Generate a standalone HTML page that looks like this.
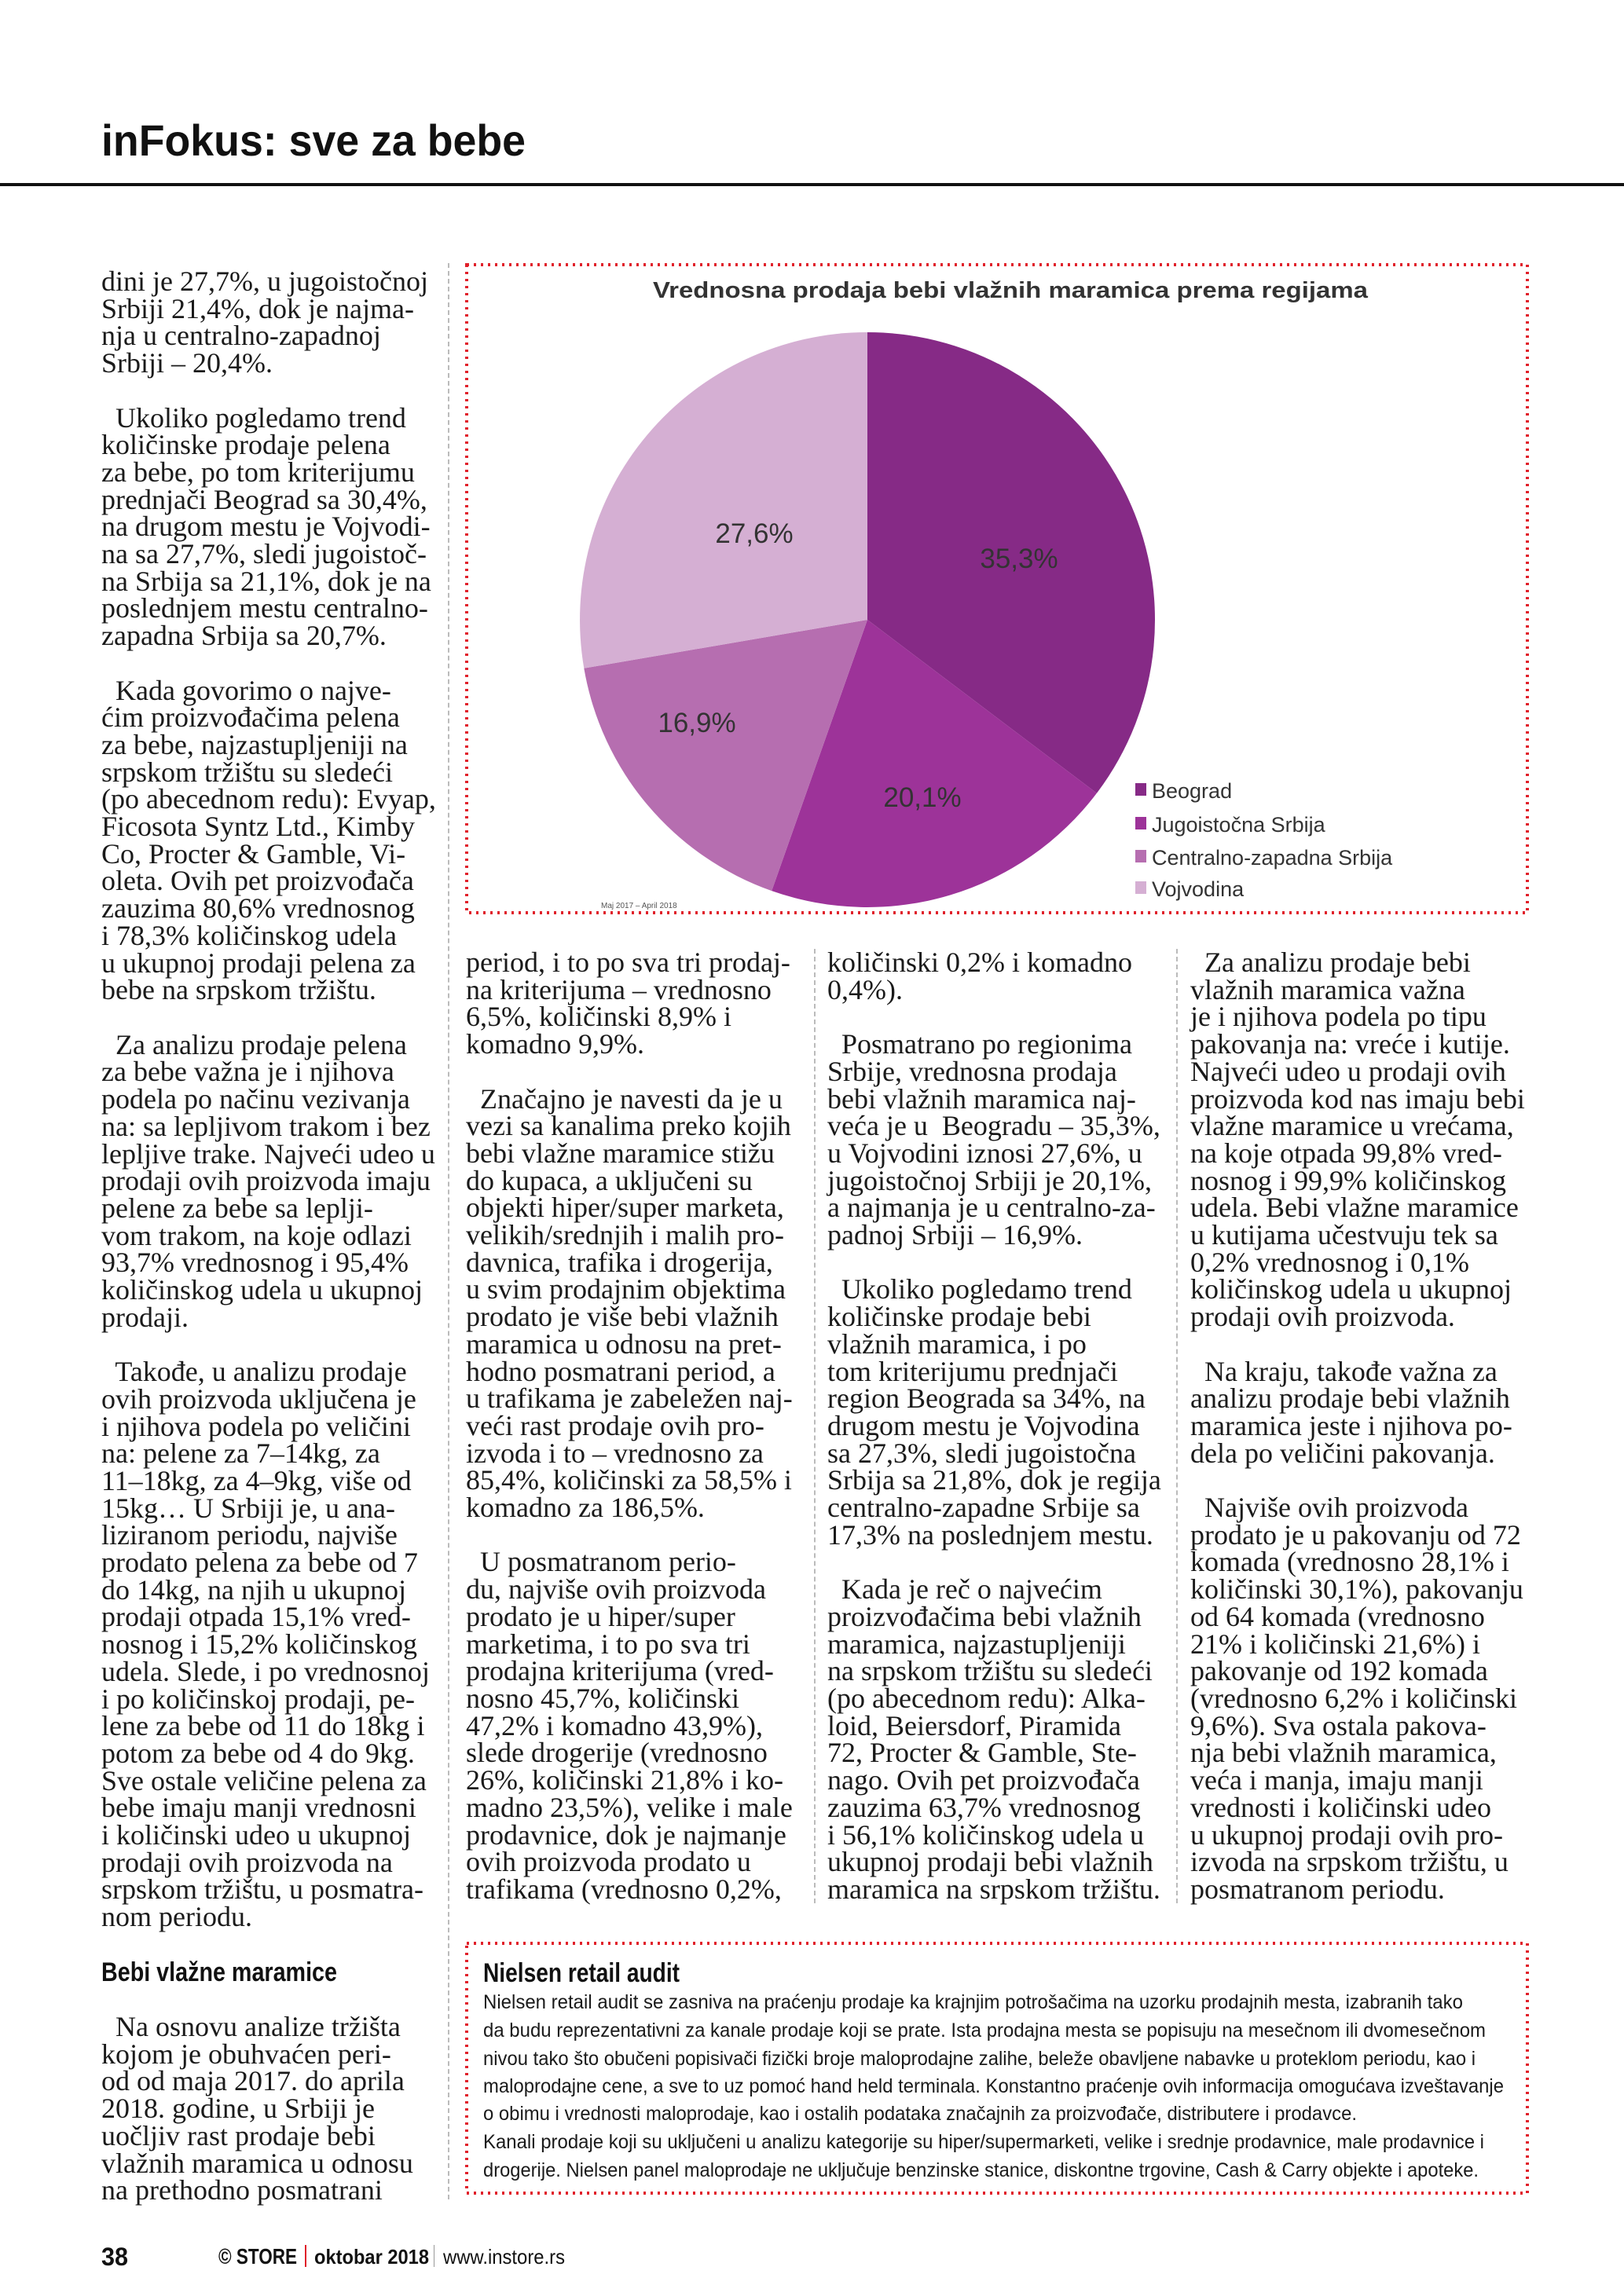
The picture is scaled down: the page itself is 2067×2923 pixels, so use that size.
<!DOCTYPE html>
<html><head><meta charset="utf-8">
<style>
html,body{margin:0;padding:0;background:#fff;}
#p{position:relative;width:2067px;height:2923px;overflow:hidden;background:#fff;}
.col{position:absolute;font-family:"Liberation Serif",serif;font-size:36px;line-height:34.7px;color:#1a1a1a;white-space:pre;letter-spacing:0px;}
.sep{position:absolute;width:0;border-left:2px dashed #bbb;}
</style></head><body><div id="p">

<svg width="2067" height="2923" style="position:absolute;left:0;top:0">
  <text x="129" y="198" font-family="Liberation Sans,sans-serif" font-weight="bold" font-size="56" textLength="540" lengthAdjust="spacingAndGlyphs" fill="#111">inFokus: sve za bebe</text>
  <rect x="0" y="233" width="2067" height="4" fill="#111"/>
  <rect x="594" y="337" width="1350" height="825" fill="none" stroke="#e0202a" stroke-width="4" stroke-dasharray="3 6"/>
  <text x="1286" y="379" text-anchor="middle" font-family="Liberation Sans,sans-serif" font-weight="bold" font-size="29" fill="#333" textLength="910" lengthAdjust="spacingAndGlyphs">Vrednosna prodaja bebi vlažnih maramica prema regijama</text>
  <path d="M1104,789 L1104,423 A366,366 0 0,1 1395.9,1009.8 Z" fill="#862a86"/>
  <path d="M1104,789 L1395.9,1009.8 A366,366 0 0,1 982.2,1134.1 Z" fill="#9d3399"/>
  <path d="M1104,789 L982.2,1134.1 A366,366 0 0,1 743.3,850.8 Z" fill="#b66eb0"/>
  <path d="M1104,789 L743.3,850.8 A366,366 0 0,1 1104,423 Z" fill="#d5afd3"/>
  <g font-family="Liberation Sans,sans-serif" font-size="35" fill="#333" text-anchor="middle">
    <text x="960" y="691">27,6%</text>
    <text x="1297" y="723">35,3%</text>
    <text x="887" y="932">16,9%</text>
    <text x="1174" y="1027">20,1%</text>
  </g>
  <g font-family="Liberation Sans,sans-serif" font-size="27" fill="#333">
    <rect x="1445" y="997" width="14" height="16" fill="#862a86"/><text x="1466" y="1016">Beograd</text>
    <rect x="1445" y="1040" width="14" height="16" fill="#9d3399"/><text x="1466" y="1059">Jugoistočna Srbija</text>
    <rect x="1445" y="1082" width="14" height="16" fill="#b66eb0"/><text x="1466" y="1101">Centralno-zapadna Srbija</text>
    <rect x="1445" y="1122" width="14" height="16" fill="#d5afd3"/><text x="1466" y="1141">Vojvodina</text>
  </g>
  <text x="765" y="1156" font-family="Liberation Sans,sans-serif" font-size="10" fill="#555">Maj 2017 – April 2018</text>
  <rect x="594" y="2474" width="1350" height="318" fill="none" stroke="#e0202a" stroke-width="4" stroke-dasharray="3 6"/>
  <text x="615" y="2523" font-family="Liberation Sans,sans-serif" font-weight="bold" font-size="34" fill="#111" textLength="250" lengthAdjust="spacingAndGlyphs">Nielsen retail audit</text>
  <g font-family="Liberation Sans,sans-serif" font-size="25" fill="#1a1a1a">
    <text x="615" y="2557" textLength="1247" lengthAdjust="spacingAndGlyphs">Nielsen retail audit se zasniva na praćenju prodaje ka krajnjim potrošačima na uzorku prodajnih mesta, izabranih tako</text>
    <text x="615" y="2593" textLength="1276" lengthAdjust="spacingAndGlyphs">da budu reprezentativni za kanale prodaje koji se prate. Ista prodajna mesta se popisuju na mesečnom ili dvomesečnom</text>
    <text x="615" y="2629" textLength="1263" lengthAdjust="spacingAndGlyphs">nivou tako što obučeni popisivači fizički broje maloprodajne zalihe, beleže obavljene nabavke u proteklom periodu, kao i</text>
    <text x="615" y="2664" textLength="1299" lengthAdjust="spacingAndGlyphs">maloprodajne cene, a sve to uz pomoć hand held terminala. Konstantno praćenje ovih informacija omogućava izveštavanje</text>
    <text x="615" y="2699" textLength="1112" lengthAdjust="spacingAndGlyphs">o obimu i vrednosti maloprodaje, kao i ostalih podataka značajnih za proizvođače, distributere i prodavce.</text>
    <text x="615" y="2735" textLength="1274" lengthAdjust="spacingAndGlyphs">Kanali prodaje koji su uključeni u analizu kategorije su hiper/supermarketi, velike i srednje prodavnice, male prodavnice i</text>
    <text x="615" y="2771" textLength="1267" lengthAdjust="spacingAndGlyphs">drogerije. Nielsen panel maloprodaje ne uključuje benzinske stanice, diskontne trgovine, Cash &amp; Carry objekte i apoteke.</text>
  </g>
  <text x="129" y="2522" font-family="Liberation Sans,sans-serif" font-weight="bold" font-size="34" fill="#111" textLength="300" lengthAdjust="spacingAndGlyphs">Bebi vlažne maramice</text>
  <g font-family="Liberation Sans,sans-serif" fill="#111">
    <text x="129" y="2884" font-weight="bold" font-size="32" textLength="34" lengthAdjust="spacingAndGlyphs">38</text>
    <text x="278" y="2882" font-weight="bold" font-size="28" textLength="100" lengthAdjust="spacingAndGlyphs">© STORE</text>
    <rect x="388" y="2858" width="2" height="28" fill="#e0202a"/>
    <text x="400" y="2882" font-weight="bold" font-size="26" textLength="146" lengthAdjust="spacingAndGlyphs">oktobar 2018</text>
    <rect x="552" y="2858" width="1" height="28" fill="#999"/>
    <text x="564" y="2882" font-size="26" textLength="155" lengthAdjust="spacingAndGlyphs">www.instore.rs</text>
  </g>
</svg>

<div class="sep" style="left:570px;top:335px;height:2465px"></div>
<div class="sep" style="left:1036px;top:1208px;height:1215px"></div>
<div class="sep" style="left:1497px;top:1208px;height:1215px"></div>

<div class="col" style="left:129px;top:341px">dini je 27,7%, u jugoistočnoj
Srbiji 21,4%, dok je najma-
nja u centralno-zapadnoj
Srbiji – 20,4%.

  Ukoliko pogledamo trend
količinske prodaje pelena
za bebe, po tom kriterijumu
prednjači Beograd sa 30,4%,
na drugom mestu je Vojvodi-
na sa 27,7%, sledi jugoistoč-
na Srbija sa 21,1%, dok je na
poslednjem mestu centralno-
zapadna Srbija sa 20,7%.

  Kada govorimo o najve-
ćim proizvođačima pelena
za bebe, najzastupljeniji na
srpskom tržištu su sledeći
(po abecednom redu): Evyap,
Ficosota Syntz Ltd., Kimby
Co, Procter &amp; Gamble, Vi-
oleta. Ovih pet proizvođača
zauzima 80,6% vrednosnog
i 78,3% količinskog udela
u ukupnoj prodaji pelena za
bebe na srpskom tržištu.

  Za analizu prodaje pelena
za bebe važna je i njihova
podela po načinu vezivanja
na: sa lepljivom trakom i bez
lepljive trake. Najveći udeo u
prodaji ovih proizvoda imaju
pelene za bebe sa leplji-
vom trakom, na koje odlazi
93,7% vrednosnog i 95,4%
količinskog udela u ukupnoj
prodaji.

  Takođe, u analizu prodaje
ovih proizvoda uključena je
i njihova podela po veličini
na: pelene za 7–14kg, za
11–18kg, za 4–9kg, više od
15kg… U Srbiji je, u ana-
liziranom periodu, najviše
prodato pelena za bebe od 7
do 14kg, na njih u ukupnoj
prodaji otpada 15,1% vred-
nosnog i 15,2% količinskog
udela. Slede, i po vrednosnoj
i po količinskoj prodaji, pe-
lene za bebe od 11 do 18kg i
potom za bebe od 4 do 9kg.
Sve ostale veličine pelena za
bebe imaju manji vrednosni
i količinski udeo u ukupnoj
prodaji ovih proizvoda na
srpskom tržištu, u posmatra-
nom periodu.</div>

<div class="col" style="left:129px;top:2563px">  Na osnovu analize tržišta
kojom je obuhvaćen peri-
od od maja 2017. do aprila
2018. godine, u Srbiji je
uočljiv rast prodaje bebi
vlažnih maramica u odnosu
na prethodno posmatrani</div>

<div class="col" style="left:593px;top:1208px">period, i to po sva tri prodaj-
na kriterijuma – vrednosno
6,5%, količinski 8,9% i
komadno 9,9%.

  Značajno je navesti da je u
vezi sa kanalima preko kojih
bebi vlažne maramice stižu
do kupaca, a uključeni su
objekti hiper/super marketa,
velikih/srednjih i malih pro-
davnica, trafika i drogerija,
u svim prodajnim objektima
prodato je više bebi vlažnih
maramica u odnosu na pret-
hodno posmatrani period, a
u trafikama je zabeležen naj-
veći rast prodaje ovih pro-
izvoda i to – vrednosno za
85,4%, količinski za 58,5% i
komadno za 186,5%.

  U posmatranom perio-
du, najviše ovih proizvoda
prodato je u hiper/super
marketima, i to po sva tri
prodajna kriterijuma (vred-
nosno 45,7%, količinski
47,2% i komadno 43,9%),
slede drogerije (vrednosno
26%, količinski 21,8% i ko-
madno 23,5%), velike i male
prodavnice, dok je najmanje
ovih proizvoda prodato u
trafikama (vrednosno 0,2%,</div>

<div class="col" style="left:1053px;top:1208px">količinski 0,2% i komadno
0,4%).

  Posmatrano po regionima
Srbije, vrednosna prodaja
bebi vlažnih maramica naj-
veća je u  Beogradu – 35,3%,
u Vojvodini iznosi 27,6%, u
jugoistočnoj Srbiji je 20,1%,
a najmanja je u centralno-za-
padnoj Srbiji – 16,9%.

  Ukoliko pogledamo trend
količinske prodaje bebi
vlažnih maramica, i po
tom kriterijumu prednjači
region Beograda sa 34%, na
drugom mestu je Vojvodina
sa 27,3%, sledi jugoistočna
Srbija sa 21,8%, dok je regija
centralno-zapadne Srbije sa
17,3% na poslednjem mestu.

  Kada je reč o najvećim
proizvođačima bebi vlažnih
maramica, najzastupljeniji
na srpskom tržištu su sledeći
(po abecednom redu): Alka-
loid, Beiersdorf, Piramida
72, Procter &amp; Gamble, Ste-
nago. Ovih pet proizvođača
zauzima 63,7% vrednosnog
i 56,1% količinskog udela u
ukupnoj prodaji bebi vlažnih
maramica na srpskom tržištu.</div>

<div class="col" style="left:1515px;top:1208px">  Za analizu prodaje bebi
vlažnih maramica važna
je i njihova podela po tipu
pakovanja na: vreće i kutije.
Najveći udeo u prodaji ovih
proizvoda kod nas imaju bebi
vlažne maramice u vrećama,
na koje otpada 99,8% vred-
nosnog i 99,9% količinskog
udela. Bebi vlažne maramice
u kutijama učestvuju tek sa
0,2% vrednosnog i 0,1%
količinskog udela u ukupnoj
prodaji ovih proizvoda.

  Na kraju, takođe važna za
analizu prodaje bebi vlažnih
maramica jeste i njihova po-
dela po veličini pakovanja.

  Najviše ovih proizvoda
prodato je u pakovanju od 72
komada (vrednosno 28,1% i
količinski 30,1%), pakovanju
od 64 komada (vrednosno
21% i količinski 21,6%) i
pakovanje od 192 komada
(vrednosno 6,2% i količinski
9,6%). Sva ostala pakova-
nja bebi vlažnih maramica,
veća i manja, imaju manji
vrednosti i količinski udeo
u ukupnoj prodaji ovih pro-
izvoda na srpskom tržištu, u
posmatranom periodu.</div>

</div></body></html>
